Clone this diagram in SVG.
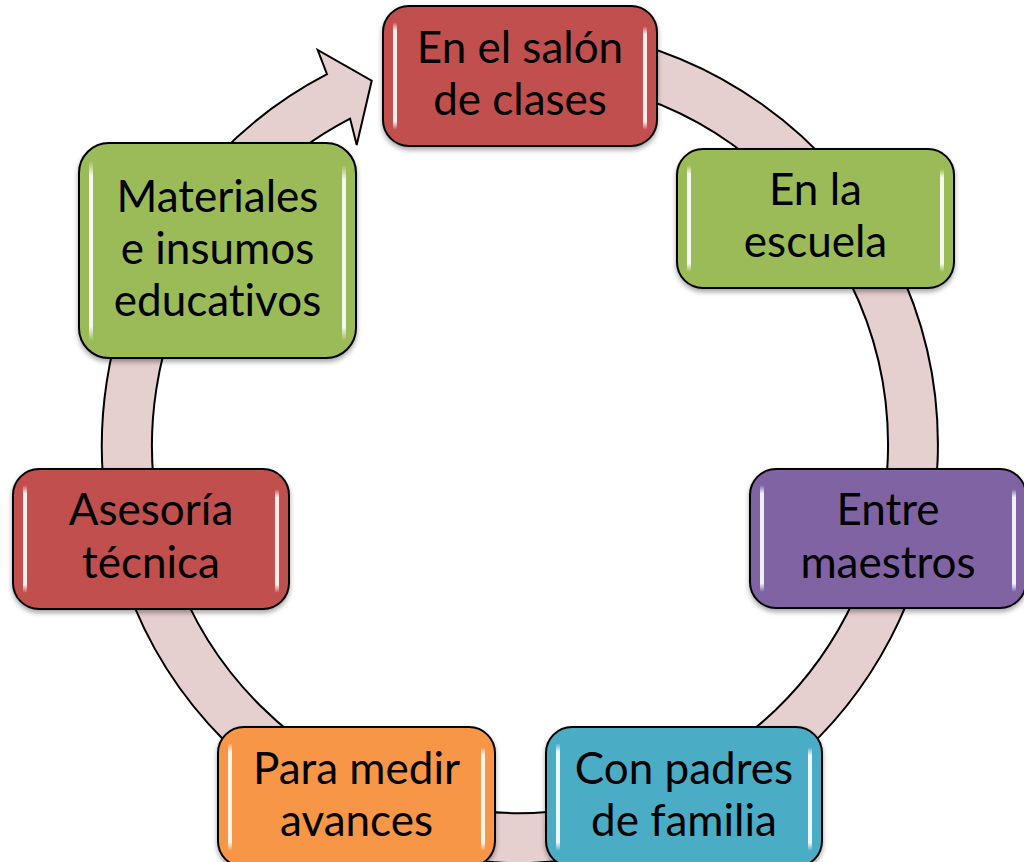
<svg xmlns="http://www.w3.org/2000/svg" width="1024" height="862" viewBox="0 0 1024 862">
  <defs>
    <style>
      .box { stroke: #000; stroke-width: 2; filter: url(#shadow); }
      .red { fill: #C0504D; }
      .green { fill: #9BBB59; }
      .purple { fill: #8064A2; }
      .blue { fill: #4BACC6; }
      .orange { fill: #F79646; }
      .hl { fill: url(#hlGrad); }
      .label { font-family: Lato, "Liberation Sans", sans-serif; font-size: 44px; fill: #000; text-anchor: middle; font-variant-ligatures: none; font-feature-settings: "liga" 0, "dlig" 0; }
      .ring { fill: #E6CFCF; stroke: #000; stroke-width: 2; stroke-linejoin: miter; }
    </style>
    <filter id="shadow" x="-10%" y="-10%" width="120%" height="130%">
      <feDropShadow dx="0" dy="3" stdDeviation="2.5" flood-color="#000" flood-opacity="0.35"/>
    </filter>
    <linearGradient id="hlGrad" x1="0" y1="0" x2="0" y2="1">
      <stop offset="0" stop-color="#fff" stop-opacity="0"/>
      <stop offset="0.08" stop-color="#fff" stop-opacity="0.9"/>
      <stop offset="0.92" stop-color="#fff" stop-opacity="0.9"/>
      <stop offset="1" stop-color="#fff" stop-opacity="0"/>
    </linearGradient>
  </defs>

  <g id="connectors">
    <path class="ring" d="M 592.6 33.4 A 418 418 0 1 1 327 74.2 L 317.7 50 L 371.7 80.7 L 356.7 145 L 350.1 118.6 A 368 368 0 1 0 583.9 82.6 Z"/>
  </g>

  <g id="node1">
    <rect class="box red" x="383" y="6" width="274" height="140" rx="26"/>
    <rect class="hl" x="393" y="22" width="4" height="108" rx="2"/>
    <rect class="hl" x="643" y="26" width="4" height="104" rx="2"/>
    <text class="label" x="520" y="63">En el salón</text>
    <text class="label" x="520" y="115">de clases</text>
  </g>

  <g id="node2">
    <rect class="box green" x="677" y="149" width="277" height="139" rx="26"/>
    <rect class="hl" x="687" y="165" width="4" height="107" rx="2"/>
    <rect class="hl" x="940" y="169" width="4" height="103" rx="2"/>
    <text class="label" x="815.5" y="205">En la</text>
    <text class="label" x="815.5" y="257">escuela</text>
  </g>

  <g id="node3">
    <rect class="box purple" x="750" y="469" width="276" height="139" rx="26"/>
    <rect class="hl" x="760" y="485" width="4" height="107" rx="2"/>
    <rect class="hl" x="1012" y="489" width="4" height="103" rx="2"/>
    <text class="label" x="888" y="525">Entre</text>
    <text class="label" x="888" y="578">maestros</text>
  </g>

  <g id="node4">
    <rect class="box blue" x="546" y="727" width="276" height="140" rx="26"/>
    <rect class="hl" x="556" y="743" width="4" height="108" rx="2"/>
    <rect class="hl" x="808" y="747" width="4" height="104" rx="2"/>
    <text class="label" x="684" y="784">Con padres</text>
    <text class="label" x="684" y="836">de familia</text>
  </g>

  <g id="node5">
    <rect class="box orange" x="218" y="727" width="277" height="140" rx="26"/>
    <rect class="hl" x="228" y="743" width="4" height="108" rx="2"/>
    <rect class="hl" x="481" y="747" width="4" height="104" rx="2"/>
    <text class="label" x="356.5" y="784">Para medir</text>
    <text class="label" x="356.5" y="836">avances</text>
  </g>

  <g id="node6">
    <rect class="box red" x="13" y="469" width="276" height="140" rx="26"/>
    <rect class="hl" x="23" y="485" width="4" height="108" rx="2"/>
    <rect class="hl" x="275" y="489" width="4" height="104" rx="2"/>
    <text class="label" x="151" y="525">Asesoría</text>
    <text class="label" x="151" y="578">técnica</text>
  </g>

  <g id="node7">
    <rect class="box green" x="79" y="143" width="277" height="215" rx="30"/>
    <rect class="hl" x="89" y="161" width="4" height="180" rx="2"/>
    <rect class="hl" x="342" y="165" width="4" height="176" rx="2"/>
    <text class="label" x="217.5" y="212">Materiales</text>
    <text class="label" x="217.5" y="264">e insumos</text>
    <text class="label" x="217.5" y="316">educativos</text>
  </g>
</svg>
